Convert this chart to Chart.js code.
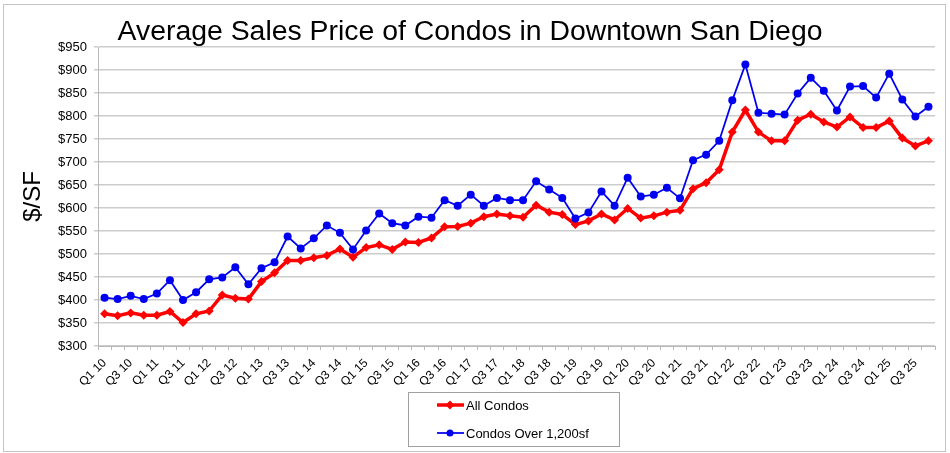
<!DOCTYPE html>
<html>
<head>
<meta charset="utf-8">
<script src="https://cdn.jsdelivr.net/npm/chart.js@4/dist/chart.umd.min.js"></script>
<style>
  html, body { margin: 0; padding: 0; background: #ffffff; }
  #wrap { width: 950px; height: 453px; position: relative; }
</style>
</head>
<body>
<div id="wrap"><canvas id="c" width="950" height="453"></canvas></div>
<script>
const chartTitle = 'Average Sales Price of Condos in Downtown San Diego';
const yAxisTitle = '$/SF';

const categories = [
  'Q1 10','Q2 10','Q3 10','Q4 10','Q1 11','Q2 11','Q3 11','Q4 11',
  'Q1 12','Q2 12','Q3 12','Q4 12','Q1 13','Q2 13','Q3 13','Q4 13',
  'Q1 14','Q2 14','Q3 14','Q4 14','Q1 15','Q2 15','Q3 15','Q4 15',
  'Q1 16','Q2 16','Q3 16','Q4 16','Q1 17','Q2 17','Q3 17','Q4 17',
  'Q1 18','Q2 18','Q3 18','Q4 18','Q1 19','Q2 19','Q3 19','Q4 19',
  'Q1 20','Q2 20','Q3 20','Q4 20','Q1 21','Q2 21','Q3 21','Q4 21',
  'Q1 22','Q2 22','Q3 22','Q4 22','Q1 23','Q2 23','Q3 23','Q4 23',
  'Q1 24','Q2 24','Q3 24','Q4 24','Q1 25','Q2 25','Q3 25','Q4 25'
];

const allCondos = [
  370, 366, 372, 367, 367, 375, 351, 370,
  376, 411, 404, 402, 440, 459, 486, 486,
  492, 497, 511, 493, 514, 520, 510, 526,
  525, 535, 559, 560, 567, 581, 587, 583,
  580, 606, 591, 586, 564, 572, 587, 574,
  599, 578, 583, 591, 595, 642, 655, 683,
  765, 813, 765, 746, 746, 791, 804, 787,
  776, 798, 775, 775, 789, 752, 735, 746
];

const condosOver1200 = [
  405, 402, 409, 402, 414, 443, 400, 417,
  445, 449, 471, 434, 469, 482, 538, 512,
  534, 562, 546, 510, 551, 588, 567, 562,
  581, 579, 617, 605, 629, 605, 622, 617,
  617, 658, 640, 622, 577, 590, 636, 605,
  666, 625, 629, 644, 621, 704, 716, 746,
  834, 912, 807, 805, 803, 849, 883, 855,
  812, 864, 865, 840, 892, 836, 799, 820
];

const seriesNames = ['All Condos', 'Condos Over 1,200sf'];
const yMin = 300, yMax = 950, yStep = 50;

const FONT = "'Liberation Sans', Arial, sans-serif";
const RED = '#ff0000';
const BLUE = '#0000f0';
const GRID = '#cccccc';

const framePlugin = {
  id: 'frame',
  beforeDraw(chart) {
    const ctx = chart.ctx;
    ctx.save();
    ctx.fillStyle = '#ffffff';
    ctx.fillRect(0, 0, chart.width, chart.height);
    ctx.strokeStyle = '#c4c4c4';
    ctx.lineWidth = 1;
    ctx.strokeRect(3.5, 4.5, 942, 447);
    ctx.restore();
  },
  afterDraw(chart) {
    const ctx = chart.ctx;
    ctx.save();
    // title
    ctx.fillStyle = '#000000';
    ctx.font = '28.4px ' + FONT;
    ctx.textAlign = 'center';
    ctx.textBaseline = 'alphabetic';
    ctx.fillText(chartTitle, 470, 40);

    // legend box
    ctx.fillStyle = '#ffffff';
    ctx.fillRect(408, 392, 212, 54);
    ctx.strokeStyle = '#a0a0a0';
    ctx.lineWidth = 1;
    ctx.strokeRect(408.5, 392.5, 211, 54);

    const rows = [405, 433];
    chart.data.datasets.forEach((ds, i) => {
      const y = rows[i];
      ctx.strokeStyle = ds.borderColor;
      ctx.lineWidth = ds.borderWidth;
      ctx.beginPath();
      ctx.moveTo(437, y);
      ctx.lineTo(464, y);
      ctx.stroke();
      ctx.fillStyle = ds.borderColor;
      ctx.beginPath();
      if (ds.pointStyle === 'rectRot') {
        const r = ds.pointRadius;
        ctx.moveTo(450, y - r);
        ctx.lineTo(450 + r, y);
        ctx.lineTo(450, y + r);
        ctx.lineTo(450 - r, y);
        ctx.closePath();
      } else {
        ctx.arc(450, y, ds.pointRadius - 0.5, 0, Math.PI * 2);
      }
      ctx.fill();
      ctx.fillStyle = '#000000';
      ctx.font = '13px ' + FONT;
      ctx.textAlign = 'left';
      ctx.textBaseline = 'middle';
      ctx.fillText(ds.label, 466, y + 1);
    });
    ctx.restore();
  }
};

new Chart(document.getElementById('c'), {
  type: 'line',
  data: {
    labels: categories,
    datasets: [
      {
        label: seriesNames[0],
        data: allCondos,
        borderColor: RED,
        backgroundColor: RED,
        borderWidth: 3.5,
        pointStyle: 'rectRot',
        pointRadius: 4.5,
        pointBorderWidth: 0,
        pointBackgroundColor: RED,
        tension: 0,
        order: 2
      },
      {
        label: seriesNames[1],
        data: condosOver1200,
        borderColor: BLUE,
        backgroundColor: BLUE,
        borderWidth: 1.75,
        pointStyle: 'circle',
        pointRadius: 4,
        pointBorderWidth: 0,
        pointBackgroundColor: BLUE,
        tension: 0,
        order: 1
      }
    ]
  },
  options: {
    responsive: false,
    animation: false,
    devicePixelRatio: 1,
    layout: { padding: { left: 0, right: 15, top: 47, bottom: 0 } },
    plugins: {
      legend: { display: false },
      title: { display: false },
      tooltip: { enabled: false }
    },
    scales: {
      x: {
        type: 'category',
        offset: true,
        grid: {
          offset: true,
          drawOnChartArea: false,
          drawTicks: true,
          tickLength: 4,
          color: '#b8b8b8'
        },
        border: { display: true, color: '#b8b8b8', width: 1 },
        ticks: {
          autoSkip: false,
          minRotation: 45,
          maxRotation: 45,
          padding: 6,
          color: '#000000',
          font: { family: FONT, size: 12 },
          callback: function(value, index) {
            return index % 2 === 0 ? categories[index] : '';
          }
        },
        afterFit(scale) { scale.height = 107; }
      },
      y: {
        min: yMin,
        max: yMax,
        grid: {
          color: GRID,
          lineWidth: 1.5,
          drawTicks: true,
          tickLength: 4
        },
        border: { display: true, color: '#b8b8b8', width: 1 },
        ticks: {
          stepSize: yStep,
          padding: 7,
          color: '#000000',
          font: { family: FONT, size: 13 },
          callback: (v) => '$' + v
        },
        title: {
          display: true,
          text: yAxisTitle,
          color: '#000000',
          font: { family: FONT, size: 24 },
          padding: { top: 19, bottom: 0 }
        },
        afterFit(scale) { scale.width = 98; }
      }
    }
  },
  plugins: [framePlugin]
});
</script>
</body>
</html>
